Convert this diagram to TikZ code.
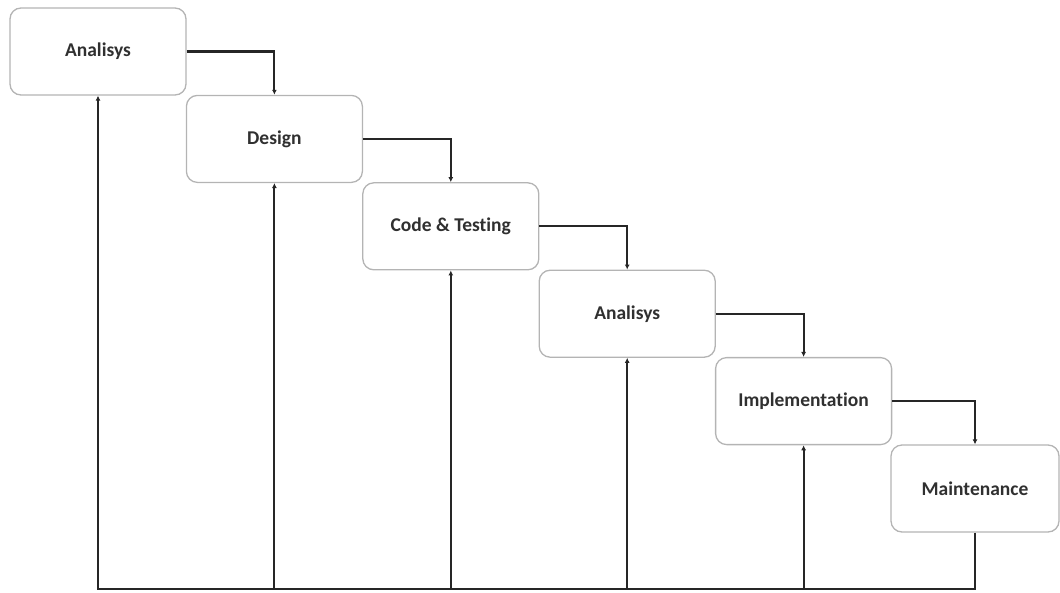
\documentclass[tikz,border=0pt]{standalone}
\usepackage{fontspec}
\setmainfont{Carlito}[Ligatures=NoCommon]
\usetikzlibrary{arrows.meta}

\definecolor{boxline}{HTML}{B4B4B4}
\definecolor{wire}{HTML}{262626}
\definecolor{label}{HTML}{303030}

\tikzset{
    phase/.style={draw=boxline, line width=1.3pt, rounded corners=11pt, fill=white,
        minimum width=176pt, minimum height=87pt, inner sep=0pt,
        text=label, font=\fontsize{19.5}{23}\selectfont\bfseries},
    wireline/.style={draw=wire, line width=2.1pt},
    flow/.style={wireline, -{Latex[length=5pt,width=5pt]}}
}

\begin{document}
\begin{tikzpicture}[x=1pt, y=-1pt]

    \useasboundingbox (0,0) rectangle (1060,592);

    % 1. The six phases, stepping down to the right
    \node[phase] (ana1) at (98,51.5) {Analisys};
    \node[phase] (des) at (274.4,138.9) {Design};
    \node[phase] (code) at (450.8,226.3) {Code \& Testing};
    \node[phase] (ana2) at (627.2,313.7) {Analisys};
    \node[phase] (impl) at (803.6,401.1) {Implementation};
    \node[phase, minimum width=168pt] (maint) at (975,488.5) {Maintenance};

    % 2. Forward steps
    \draw[flow] (ana1.east) -| (des.north);
    \draw[flow] (des.east) -| (code.north);
    \draw[flow] (code.east) -| (ana2.north);
    \draw[flow] (ana2.east) -| (impl.north);
    \draw[flow] (impl.east) -| (maint.north);

    % 3. Return line along the bottom
    \coordinate (base) at (0,589);
    \draw[flow, line join=miter] (maint.south) -- (maint.south |- base) -- (ana1.south |- base) -- (ana1.south);
    \draw[flow] (des.south |- base) -- (des.south);
    \draw[flow] (code.south |- base) -- (code.south);
    \draw[flow] (ana2.south |- base) -- (ana2.south);
    \draw[flow] (impl.south |- base) -- (impl.south);

\end{tikzpicture}
\end{document}
